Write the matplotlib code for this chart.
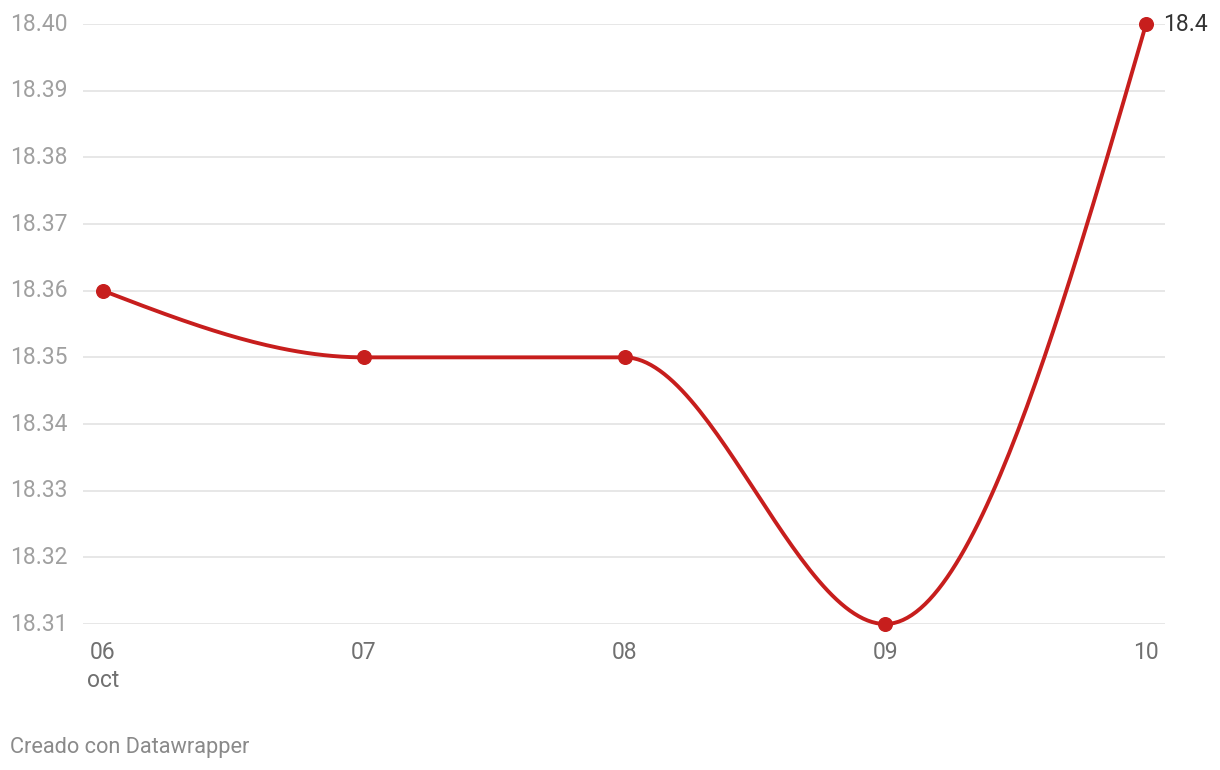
import numpy as np
import matplotlib.pyplot as plt

plt.rcParams['font.family'] = ['Roboto', 'DejaVu Sans']

dias = ['06\noct', '07', '08', '09', '10']
valores = [18.36, 18.35, 18.35, 18.31, 18.40]
yticks = [18.31, 18.32, 18.33, 18.34, 18.35, 18.36, 18.37, 18.38, 18.39, 18.40]

rojo = '#c71e1d'

# curva monotona (como d3 curveMonotoneX)
def monotone(x, y, n=60):
    x = np.asarray(x, float)
    y = np.asarray(y, float)
    h = np.diff(x)
    s = np.diff(y) / h
    t = np.zeros(len(x))
    for i in range(1, len(x) - 1):
        p = (s[i-1] * h[i] + s[i] * h[i-1]) / (h[i-1] + h[i])
        t[i] = (np.sign(s[i-1]) + np.sign(s[i])) * min(abs(s[i-1]), abs(s[i]), 0.5 * abs(p))
    t[0] = (3 * s[0] - t[1]) / 2
    t[-1] = (3 * s[-1] - t[-2]) / 2
    xs, ys = [], []
    u = np.linspace(0, 1, n)
    for i in range(len(x) - 1):
        dx = h[i] / 3
        p0 = (x[i], y[i])
        p1 = (x[i] + dx, y[i] + dx * t[i])
        p2 = (x[i+1] - dx, y[i+1] - dx * t[i+1])
        p3 = (x[i+1], y[i+1])
        bx = (1-u)**3*p0[0] + 3*(1-u)**2*u*p1[0] + 3*(1-u)*u**2*p2[0] + u**3*p3[0]
        by = (1-u)**3*p0[1] + 3*(1-u)**2*u*p1[1] + 3*(1-u)*u**2*p2[1] + u**3*p3[1]
        xs.extend(bx)
        ys.extend(by)
    return np.array(xs), np.array(ys)

x = np.arange(len(valores))

fig = plt.figure(figsize=(12.2, 7.7), dpi=100)
ax = fig.add_axes([0.068, 0.1896, 0.887, 0.7792])

for v in yticks:
    ax.axhline(v, color='#e3e3e3', lw=1.2, zorder=1)

cx, cy = monotone(x, valores)
ax.plot(cx, cy, color=rojo, lw=2.8, zorder=3, solid_capstyle='round', clip_on=False)
ax.plot(x, valores, 'o', color=rojo, ms=9.8, zorder=4, clip_on=False)
ax.annotate('18.4', (x[-1], valores[-1]), xytext=(12, 0), textcoords='offset points',
            va='center', ha='left', fontsize=16.5, color='#333333')

ax.set_xlim(-0.0767, 4.073)
ax.set_ylim(18.31, 18.40)
ax.set_xticks(x)
ax.set_xticklabels(dias, fontsize=16.5, color='#707070', linespacing=1.3, va='top',
                   ha='center', multialignment='center')
ax.tick_params(axis='x', length=0, pad=12)
ax.set_yticks([])
for v in yticks:
    ax.text(10 / 1220, ax.transData.transform((0, v))[1] / 770, f'{v:.2f}',
            transform=fig.transFigure, ha='left', va='center', fontsize=16.5, color='#a0a0a0')
for sp in ax.spines.values():
    sp.set_visible(False)

fig.text(10 / 1220, 1 - 748 / 770, 'Creado con Datawrapper', ha='left', va='center',
         fontsize=15.7, color='#8a8a8a')

fig.savefig('out.png', dpi=100)
